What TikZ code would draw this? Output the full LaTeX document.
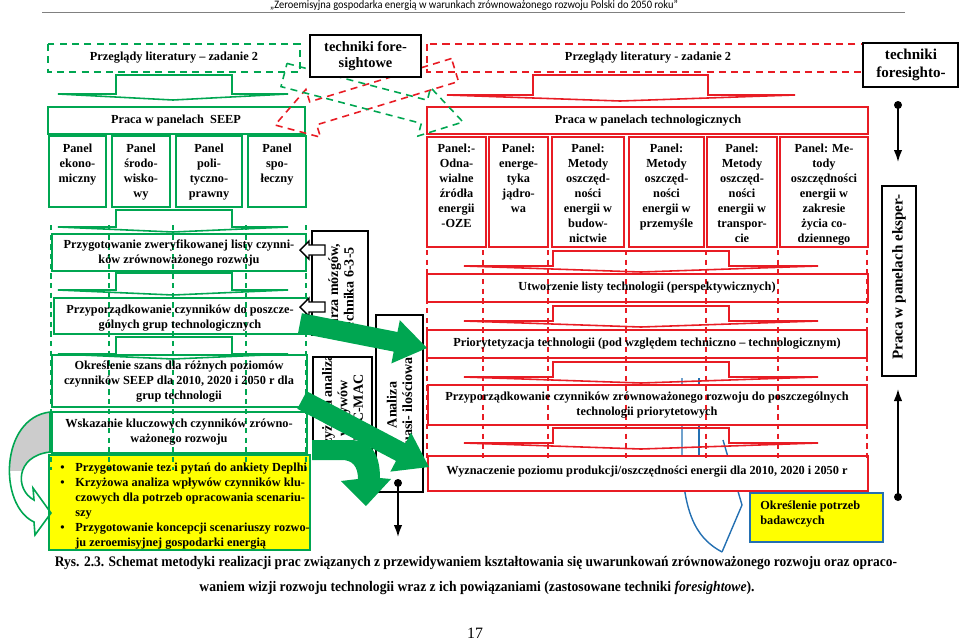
\documentclass[tikz,border=0pt]{standalone}
\usepackage{fontspec}
\usepackage{graphicx}
\setmainfont{Liberation Serif}
\newfontfamily\headfont{Carlito}
\usetikzlibrary{arrows.meta}

\definecolor{seepgreen}{RGB}{0,166,81}
\definecolor{techred}{RGB}{232,28,36}
\definecolor{callblue}{RGB}{36,112,178}
\definecolor{noteyellow}{RGB}{255,255,0}

\tikzset{
  txt/.style={font=\fontsize{7}{8.5}\selectfont\bfseries, align=center, inner sep=0pt},
  boxtxt/.style={font=\fontsize{8}{8.8}\selectfont\bfseries, align=center, inner sep=0pt},
  bigtxt/.style={font=\fontsize{8.6}{9.8}\selectfont\bfseries, align=center, inner sep=0pt},
  greenbox/.style={draw=seepgreen, line width=1.1pt},
  redbox/.style={draw=techred, line width=0.9pt, fill=white},
  blackbox/.style={draw=black, line width=1pt, fill=white},
  flatgreen/.style={draw=seepgreen, line width=0.9pt},
  flatred/.style={draw=techred, line width=0.9pt},
  greenguide/.style={seepgreen, line width=0.8pt, dash pattern=on 3pt off 2.5pt},
  redguide/.style={techred, line width=0.8pt, dash pattern=on 3pt off 2.5pt},
  greenflow/.style={fill=seepgreen},
  blackflow/.style={line width=0.9pt, -{Latex[length=2.4mm,width=1.7mm]}}
}

\begin{document}
\begin{tikzpicture}[x=0.2mm, y=-0.2mm]
\useasboundingbox (0,0) rectangle (959,641);

% running head
\node[anchor=base, inner sep=0pt, font=\headfont\fontsize{6.5}{8}\selectfont] (runhead) at (474,8) {\resizebox{81.6mm}{\height}{„Zeroemisyjna gospodarka energią w warunkach zrównoważonego rozwoju Polski do 2050 roku”}};
\draw[gray, line width=0.5pt] (42,12) -- (905,12);

% literature reviews
\draw[seepgreen, line width=0.9pt, dash pattern=on 4pt off 3pt] (48,44) rectangle (300,72);
\draw[techred, line width=0.9pt, dash pattern=on 4pt off 3pt] (427,44) rectangle (890,72);
\node[txt] (litL) at (174,58) {Przeglądy literatury – zadanie 2};
\node[txt] (litR) at (648,58) {Przeglądy literatury - zadanie 2};

% callout tail (behind the red boxes)
\draw[callblue, line width=0.8pt] (682,378) -- (682,460) .. controls (684,520) and (700,540) .. (722,552);
\draw[callblue, line width=0.8pt] (699,378) -- (699,480);
\draw[callblue, line width=0.8pt] (723,440) -- (742,505) -- (722,552);

% flat arrows
\draw[flatgreen] (58,94) -- (116,94) -- (116,75) -- (232,75) -- (232,94) -- (288,94) -- (173,100) -- cycle;
\draw[flatred] (447,95) -- (533,95) -- (533,75) -- (708,75) -- (708,95) -- (795,95) -- (620,101) -- cycle;
\foreach \y in {210,273,337}
  \draw[flatgreen] (58,{\y+17}) -- (116,{\y+17}) -- (116,\y) -- (232,\y) -- (232,{\y+17}) -- (288,{\y+17}) -- (173,{\y+22}) -- cycle;
\foreach \y in {251,306,362,428}
  \draw[flatred] (464,{\y+15}) -- (553,{\y+15}) -- (553,\y) -- (729,\y) -- (729,{\y+15}) -- (818,{\y+15}) -- (641,{\y+21}) -- cycle;

% SEEP column
\draw[greenbox] (48,107) rectangle (305,134);
\foreach \a/\b in {49/106,112/170,176/242,248/306}
  \draw[greenbox] (\a,136) rectangle (\b,207);
\draw[greenbox] (52,234) rectangle (306,271);
\draw[greenbox] (54,298) rectangle (307,334);
\draw[greenbox] (52,355) rectangle (307,407);
\draw[greenbox] (52,412) rectangle (307,453);
\draw[seepgreen, fill=noteyellow, line width=0.9pt] (49,455) rectangle (310,550);

% technology column
\draw[redbox] (427,107) rectangle (868,134);
\foreach \a/\b in {427/486,489/548,552/624,629/704,707/777,780/868}
  \draw[redbox] (\a,137) rectangle (\b,247);
\draw[redbox] (427,274) rectangle (868,302);
\draw[redbox] (427,330) rectangle (867,358);
\draw[redbox] (428,385) rectangle (867,425);
\draw[redbox] (428,456) rectangle (868,491);

% guide lines
\foreach \x in {51,109,173,246,306}
  \draw[greenguide] (\x,225) -- (\x,470);
\foreach \x in {427,483,548,626,706,778,867}
  \draw[redguide] (\x,250) -- (\x,458);

% crossing dashed arrows
\draw[techred, line width=0.9pt, dash pattern=on 4pt off 3pt] (451.5,58.5) -- (309.7,101.8) -- (305.9,89.4) -- (275,125) -- (320.5,137.2) -- (316.7,124.8) -- (458.5,81.5) -- cycle;
\draw[seepgreen, line width=0.9pt, dash pattern=on 4pt off 3pt] (287,63.4) -- (427.3,100.2) -- (430.7,87.6) -- (463,122) -- (418,136) -- (421.3,123.4) -- (281,86.6) -- cycle;

% foresight boxes
\draw[blackbox] (310,35) rectangle (421,77);
\node[bigtxt, font=\fontsize{8.2}{9.6}\selectfont\bfseries] (foreL) at (365.5,56) {techniki fore-\\sightowe};
\draw[blackbox] (863,43) rectangle (958,87);
\node[bigtxt] (foreR) at (911,65) {techniki\\foresighto-};

% texts, SEEP column
\node[txt] (seep) at (176,120.5) {Praca w panelach \ SEEP};
\node[txt, anchor=north] (pEko) at (77.5,144) {Panel\\ekono-\\miczny};
\node[txt, anchor=north] (pSrod) at (141,144) {Panel\\środo-\\wisko-\\wy};
\node[txt, anchor=north] (pPol) at (209,144) {Panel\\poli-\\tyczno-\\prawny};
\node[txt, anchor=north] (pSpol) at (277,144) {Panel\\spo-\\łeczny};
\node[txt] (zwer) at (179,253) {Przygotowanie zweryfikowanej listy czynni-\\ków zrównoważonego rozwoju};
\node[txt] (przyp) at (180,318) {Przyporządkowanie czynników do poszcze-\\gólnych grup technologicznych};
\node[txt] (szans) at (179,382) {Określenie szans dla różnych poziomów\\czynników SEEP dla 2010, 2020 i 2050 r dla\\grup technologii};
\node[txt] (klucz) at (179,432) {Wskazanie kluczowych czynników zrówno-\\ważonego rozwoju};
\begin{scope}
  \clip (49,455) rectangle (310,549);
  \node[txt, anchor=north west, align=left] (tasks) at (60,463) {\makebox[3mm][l]{\textbullet}Przygotowanie tez i pytań do ankiety Deplhi\\
    \makebox[3mm][l]{\textbullet}Krzyżowa analiza wpływów czynników klu-\\
    \hspace*{3mm}czowych dla potrzeb opracowania scenariu-\\
    \hspace*{3mm}szy\\
    \makebox[3mm][l]{\textbullet}Przygotowanie koncepcji scenariuszy rozwo-\\
    \hspace*{3mm}ju zeroemisyjnej gospodarki energią};
\end{scope}

% texts, technology column
\node[txt] (tech) at (648,120.5) {Praca w panelach technologicznych};
\node[txt, anchor=north] (pOze) at (456.5,144) {Panel:-\\Odna-\\wialne\\źródła\\energii\\-OZE};
\node[txt, anchor=north] (pJad) at (518.5,144) {Panel:\\energe-\\tyka\\jądro-\\wa};
\node[txt, anchor=north] (pBud) at (588,144) {Panel:\\Metody\\oszczęd-\\ności\\energii w\\budow-\\nictwie};
\node[txt, anchor=north] (pPrz) at (666.5,144) {Panel:\\Metody\\oszczęd-\\ności\\energii w\\przemyśle};
\node[txt, anchor=north] (pTra) at (742,144) {Panel:\\Metody\\oszczęd-\\ności\\energii w\\transpor-\\cie};
\node[txt, anchor=north] (pZyc) at (824,144) {Panel: Me-\\tody\\oszczędności\\energii w\\zakresie\\życia co-\\dziennego};
\node[txt] (utw) at (647,288) {Utworzenie listy technologii (perspektywicznych)};
\node[txt] (prior) at (647,344) {Priorytetyzacja technologii (pod względem techniczno – technologicznym)};
\node[txt] (przyT) at (647,405) {Przyporządkowanie czynników zrównoważonego rozwoju do poszczególnych\\technologii priorytetowych};
\node[txt] (wyzn) at (647,472) {Wyznaczenie poziomu produkcji/oszczędności energii dla 2010, 2020 i 2050 r};

% foresight techniques
\draw[blackbox] (312,231) rectangle (368,335);
\begin{scope}
  \clip (312,231) rectangle (368,335);
  \node[boxtxt, rotate=90] (burza) at (341,290) {Burza mózgów,\\technika 6-3-5};
\end{scope}
\draw[blackbox] (313,357) rectangle (372,453);
\begin{scope}
  \clip (313,357) rectangle (372,453);
  \node[boxtxt, rotate=90] (micmac) at (342.5,408) {Krzyżowa analiza\\wpływów\\MIC-MAC};
\end{scope}
\draw[blackbox] (376,315) rectangle (423,492);
\node[boxtxt, rotate=90] (quasi) at (401,405) {Analiza\\quasi- ilościowa};
\foreach \y in {250,307}
  \draw[fill=white, line width=0.8pt] (300,\y) -- (309,{\y-9}) -- (309,{\y-5}) -- (325,{\y-5}) -- (325,{\y+5}) -- (309,{\y+5}) -- (309,{\y+9}) -- cycle;

% feedback arrow into the yellow box
\def\backpath{(50,412) .. controls (0,418) and (-2,505) .. (34,522) -- (35,535) -- (51,513) -- (33,488) -- (34,500) .. controls (15,490) and (15,456) .. (50,452) -- cycle}
\begin{scope}
  \clip (0,400) rectangle (60,470);
  \fill[gray!40] \backpath;
\end{scope}
\draw[seepgreen, line width=0.9pt] \backpath;

% green flows
\fill[greenflow] (301.9,313.2) -- (397.5,332.0) -- (399.8,320.2) -- (427,348) -- (391.4,363.4) -- (393.7,351.6) -- (298.1,332.8) -- cycle;
\fill[greenflow] (306.7,391.2) -- (405.4,443.3) -- (411.0,432.6) -- (429,467) -- (390.4,471.6) -- (396.0,460.9) -- (297.3,408.8) -- cycle;
\fill[greenflow] (312,440) -- (350,440) .. controls (372,440) and (380,455) .. (380,478) -- (391,479) -- (366,506) -- (341,481) -- (358,479) .. controls (358,466) and (352,460) .. (342,460) -- (312,460) -- cycle;

% expert panels
\draw[blackbox] (882,186) rectangle (916,376);
\node[bigtxt, rotate=90] (eksp) at (899,277) {Praca w panelach eksper-};
\coordinate (ekspTopDot) at (898,105);
\coordinate (ekspTopEnd) at (898,162);
\coordinate (ekspLowDot) at (898,497);
\coordinate (ekspLowEnd) at (898,389);
\draw[blackflow] (ekspTopDot) -- (ekspTopEnd);
\draw[blackflow] (ekspLowDot) -- (ekspLowEnd);
\fill (ekspTopDot) circle (4);
\fill (ekspLowDot) circle (4);
\coordinate (quasiDot) at (398,483);
\coordinate (quasiEnd) at (398,537);
\draw[blackflow] (quasiDot) -- (quasiEnd);
\fill (quasiDot) circle (4);

% research needs
\draw[callblue, fill=noteyellow, line width=1pt] (750,493) rectangle (883,542);
\node[txt, anchor=west, align=left] (need) at (760,514.5) {Określenie potrzeb\\badawczych};

% caption
\node[anchor=base, inner sep=0pt, font=\fontsize{8.3}{10}\selectfont\bfseries] (cap1) at (476,566) {\resizebox{168.4mm}{\height}{Rys. 2.3. Schemat metodyki realizacji prac związanych z przewidywaniem kształtowania się uwarunkowań zrównoważonego rozwoju oraz opraco-}};
\node[anchor=base, inner sep=0pt, font=\fontsize{8.3}{10}\selectfont\bfseries] (cap2) at (477,591) {\resizebox{111mm}{\height}{waniem wizji rozwoju technologii wraz z ich powiązaniami (zastosowane techniki \textit{foresightowe}).}};
\node[inner sep=0pt, font=\fontsize{9}{10}\selectfont] (pagenum) at (475,633) {17};
\end{tikzpicture}
\end{document}
